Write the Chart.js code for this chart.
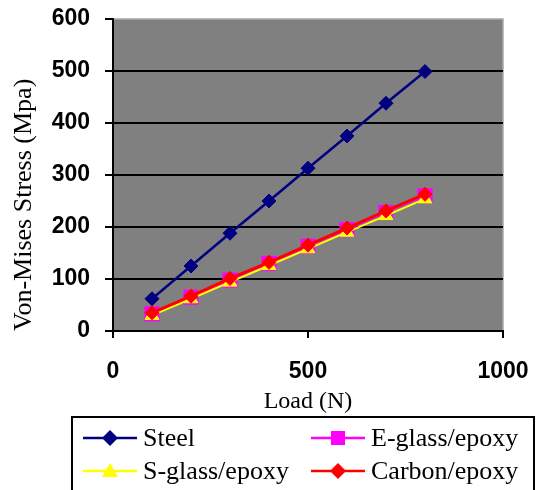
<!DOCTYPE html>
<html lang="en">
<head>
    <meta charset="UTF-8">
    <title>Von-Mises Stress vs Load</title>
    <style>
        body { margin: 0; background: #fff; width: 539px; height: 490px; overflow: hidden; position: relative; }
        .chart-box { position: absolute; left: 0; top: 0; width: 539px; height: 420px; }
        #legend {
            position: absolute; left: 71px; top: 416px; width: 464px; height: 100px;
            border: 2px solid #000; box-sizing: border-box;
            font-family: "Liberation Serif", "Times New Roman", serif; font-size: 26px; color: #000;
        }
        .item { position: absolute; display: flex; align-items: center; height: 30px; white-space: nowrap; }
        .item svg { margin-right: 6px; }
    </style>
</head>
<body>
    <div class="chart-box"><canvas id="stressChart"></canvas></div>
    <div id="legend"></div>

    <script src="https://cdn.jsdelivr.net/npm/chart.js"></script>
    <script>
        // Load (N) and von-Mises stress (MPa) per material
        const loads  = [100, 200, 300, 400, 500, 600, 700, 800];
        const steel  = [62, 125, 188, 250, 313, 375, 438, 499];
        const eGlass = [33, 65, 98, 130, 163, 195, 228, 260];
        const sGlass = [30, 62, 94, 126, 158, 190, 222, 254];
        const carbon = [35, 67, 101, 132, 165, 198, 231, 263];

        const xTicks = [0, 500, 1000];
        const yTicks = [0, 100, 200, 300, 400, 500, 600];

        const series = [
            { label: 'Steel',         values: steel,  color: '#000080', marker: 'rectRot',  radius: 7,  width: 2.5, order: 3 },
            { label: 'E-glass/epoxy', values: eGlass, color: '#FF00FF', marker: 'rect',     radius: 10, width: 2,   order: 2 },
            { label: 'S-glass/epoxy', values: sGlass, color: '#FFFF00', marker: 'triangle', radius: 8,  width: 2,   order: 1 },
            { label: 'Carbon/epoxy',  values: carbon, color: '#FF0000', marker: 'rectRot',  radius: 7,  width: 3,   order: 0 }
        ];

        // gray plot area plus the light top/right frame
        const plotBackground = {
            id: 'plotBackground',
            beforeDraw(chart) {
                const { ctx, chartArea: a } = chart;
                ctx.save();
                ctx.fillStyle = '#808080';
                ctx.fillRect(a.left, a.top, a.right - a.left, a.bottom - a.top);
                ctx.strokeStyle = '#a8a8a8';
                ctx.lineWidth = 1.5;
                ctx.beginPath();
                ctx.moveTo(a.left, a.top);
                ctx.lineTo(a.right, a.top);
                ctx.lineTo(a.right, a.bottom);
                ctx.stroke();
                ctx.restore();
            }
        };

        const tickFont = { family: 'Liberation Sans, Arial, sans-serif', size: 23, weight: 'bold' };
        const titleFont = { family: 'Liberation Serif, Times New Roman, serif', size: 24, weight: 'normal' };

        const chart = new Chart(document.getElementById('stressChart').getContext('2d'), {
            type: 'line',
            data: {
                datasets: series.map(s => ({
                    label: s.label,
                    data: loads.map((x, i) => ({ x: x, y: s.values[i] })),
                    borderColor: s.color,
                    backgroundColor: s.color,
                    borderWidth: s.width,
                    pointStyle: s.marker,
                    pointRadius: s.radius,
                    pointHoverRadius: s.radius,
                    pointBorderColor: s.color,
                    pointBackgroundColor: s.color,
                    pointBorderWidth: 1,
                    tension: 0,
                    fill: false,
                    order: s.order
                }))
            },
            options: {
                responsive: true,
                maintainAspectRatio: false,
                animation: false,
                layout: { padding: { top: 19, right: 36, left: 0, bottom: 0 } },
                plugins: { legend: { display: false }, tooltip: { enabled: false } },
                scales: {
                    x: {
                        type: 'linear',
                        min: 0, max: 1000,
                        afterBuildTicks: scale => { scale.ticks = xTicks.map(v => ({ value: v })); },
                        afterFit: scale => { scale.height = 89; scale.paddingLeft = 0; scale.paddingRight = 0; },
                        ticks: { font: tickFont, color: '#000', padding: 20, maxRotation: 0, callback: v => String(v) },
                        grid: { drawOnChartArea: false, tickLength: 7, tickColor: '#000', lineWidth: 2 },
                        border: { display: true, color: '#000', width: 2 },
                        title: { display: true, text: 'Load (N)', font: titleFont, color: '#000', padding: { top: 0, bottom: 4 } }
                    },
                    y: {
                        min: 0, max: 600,
                        afterBuildTicks: scale => { scale.ticks = yTicks.map(v => ({ value: v })); },
                        afterFit: scale => { scale.width = 113; scale.paddingTop = 0; scale.paddingBottom = 0; },
                        ticks: { font: tickFont, color: '#000', padding: 15, callback: v => String(v) },
                        grid: {
                            color: c => c.tick.value === 600 ? 'rgba(0,0,0,0)' : '#000',
                            lineWidth: 2,
                            tickLength: 8,
                            tickColor: '#000'
                        },
                        border: { display: true, color: '#000', width: 2 },
                        title: {
                            display: true, text: 'Von-Mises Stress (Mpa)', align: 'start',
                            font: { ...titleFont, size: 26 }, color: '#000', padding: { top: 9, bottom: 0 }
                        }
                    }
                }
            },
            plugins: [plotBackground]
        });

        // legend: line with the series marker, two columns
        function markerSvg(s) {
            const w = 54, h = 20, cx = w / 2, cy = h / 2;
            let shape = '';
            if (s.marker === 'rectRot') {
                shape = `<polygon points="${cx},${cy - 8} ${cx + 8},${cy} ${cx},${cy + 8} ${cx - 8},${cy}" fill="${s.color}"/>`;
            } else if (s.marker === 'rect') {
                shape = `<rect x="${cx - 7}" y="${cy - 7}" width="14" height="14" fill="${s.color}"/>`;
            } else {
                shape = `<polygon points="${cx},${cy - 8} ${cx + 8},${cy + 6} ${cx - 8},${cy + 6}" fill="${s.color}"/>`;
            }
            return `<svg width="${w}" height="${h}"><line x1="0" y1="${cy}" x2="${w}" y2="${cy}" stroke="${s.color}" stroke-width="2.5"/>${shape}</svg>`;
        }

        const legend = document.getElementById('legend');
        const cols = [10, 238];
        const rows = [5, 38];
        series.forEach((s, i) => {
            const el = document.createElement('div');
            el.className = 'item';
            el.style.left = cols[i % 2] + 'px';
            el.style.top = rows[Math.floor(i / 2)] + 'px';
            el.innerHTML = markerSvg(s) + '<span>' + s.label + '</span>';
            legend.appendChild(el);
        });
    </script>
</body>
</html>
